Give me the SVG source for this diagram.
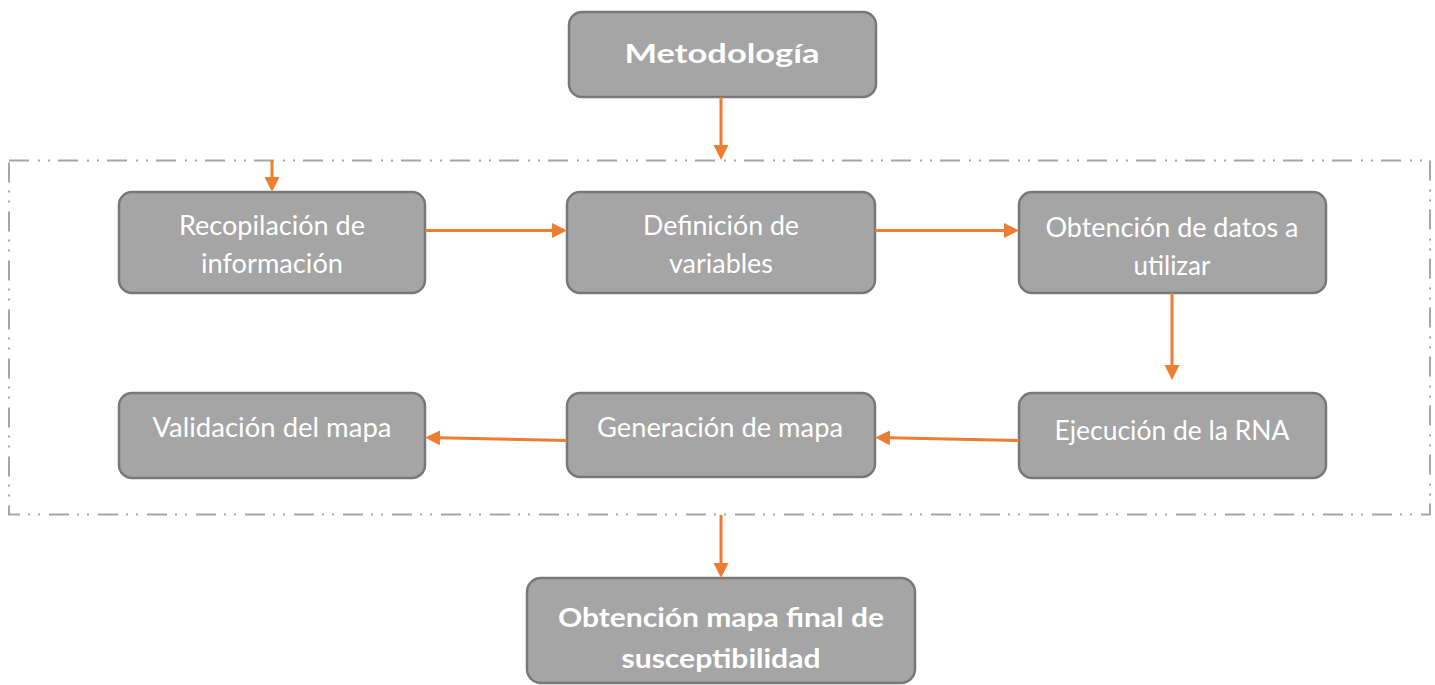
<svg xmlns="http://www.w3.org/2000/svg" width="1435" height="685" viewBox="0 0 1435 685">
<style>
.box{fill:#a5a5a5;stroke:#787878;stroke-width:2.5}
.t{font-family:Lato,"Open Sans","Liberation Sans",sans-serif;font-size:27px;fill:#ffffff;text-anchor:middle}
.b{font-weight:bold}
.c{stroke:#ed7d31;stroke-width:3;fill:none;marker-end:url(#ah)}
.frame{fill:none;stroke:#a6a6a6;stroke-width:2;stroke-dasharray:20 9 2 8 2 8}
</style>
<defs>
<marker id="ah" markerUnits="userSpaceOnUse" markerWidth="16" markerHeight="16" refX="2" refY="7.5" orient="auto">
<path d="M0,0 L15,7.5 L0,15 z" fill="#ed7d31"/>
</marker>
</defs>
<rect id="frame" class="frame" x="9" y="160.5" width="1421" height="354"/>
<g id="n-metodologia">
<rect class="box" x="569" y="12" width="307" height="85" rx="13"/>
<text class="t b" x="722" y="63" font-size="34" textLength="195" lengthAdjust="spacingAndGlyphs">Metodología</text>
</g>
<g id="n-recopilacion">
<rect class="box" x="119" y="192" width="306" height="101" rx="13"/>
<text class="t" x="272" y="235" textLength="186" lengthAdjust="spacingAndGlyphs">Recopilación de</text>
<text class="t" x="272" y="273" textLength="142" lengthAdjust="spacingAndGlyphs">información</text>
</g>
<g id="n-definicion">
<rect class="box" x="567" y="192" width="308" height="101" rx="13"/>
<text class="t" x="721" y="235" textLength="156" lengthAdjust="spacingAndGlyphs">Definición de</text>
<text class="t" x="721" y="273" textLength="104" lengthAdjust="spacingAndGlyphs">variables</text>
</g>
<g id="n-obtencion">
<rect class="box" x="1019" y="192" width="307" height="101" rx="13"/>
<text class="t" x="1172" y="237" textLength="253" lengthAdjust="spacingAndGlyphs">Obtención de datos a</text>
<text class="t" x="1172" y="275" textLength="77" lengthAdjust="spacingAndGlyphs">utilizar</text>
</g>
<g id="n-validacion">
<rect class="box" x="119" y="393" width="306" height="85" rx="13"/>
<text class="t" x="272" y="437" textLength="239" lengthAdjust="spacingAndGlyphs">Validación del mapa</text>
</g>
<g id="n-generacion">
<rect class="box" x="567" y="393" width="308" height="84" rx="13"/>
<text class="t" x="720" y="437" textLength="246" lengthAdjust="spacingAndGlyphs">Generación de mapa</text>
</g>
<g id="n-ejecucion">
<rect class="box" x="1019" y="393" width="307" height="85" rx="13"/>
<text class="t" x="1172" y="440" textLength="235" lengthAdjust="spacingAndGlyphs">Ejecución de la RNA</text>
</g>
<g id="n-final">
<rect class="box" x="527" y="578" width="388" height="105" rx="14"/>
<text class="t b" x="721" y="627" font-size="28" textLength="326" lengthAdjust="spacingAndGlyphs">Obtención mapa final de</text>
<text class="t b" x="721" y="668" font-size="28" textLength="199" lengthAdjust="spacingAndGlyphs">susceptibilidad</text>
</g>
<g id="connectors">
<line class="c" x1="721" y1="97" x2="721" y2="147"/>
<line class="c" x1="272" y1="160" x2="272" y2="179"/>
<line class="c" x1="425" y1="230.5" x2="554" y2="230.5"/>
<line class="c" x1="875" y1="230.5" x2="1006" y2="230.5"/>
<line class="c" x1="1172" y1="293" x2="1172" y2="367"/>
<line class="c" x1="1019" y1="440.5" x2="888" y2="437.8"/>
<line class="c" x1="567" y1="440.5" x2="438" y2="437.8"/>
<line class="c" x1="721" y1="515" x2="721" y2="565"/>
</g>
</svg>
